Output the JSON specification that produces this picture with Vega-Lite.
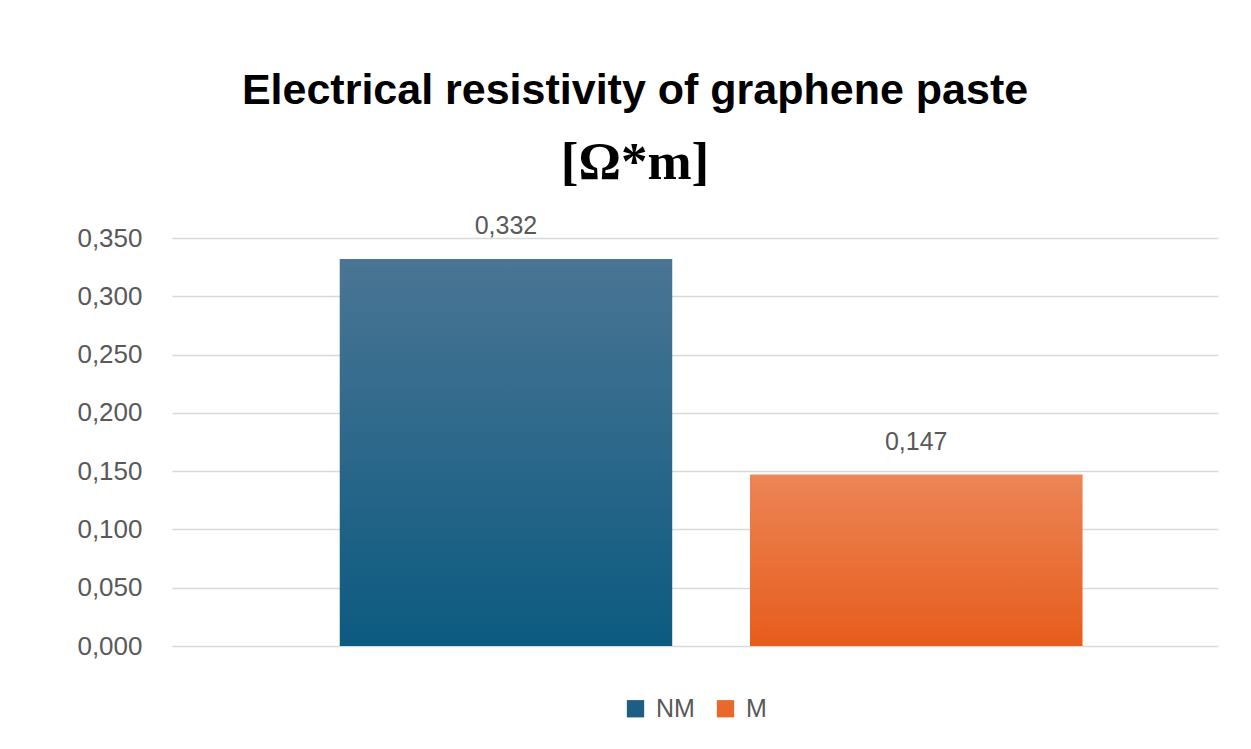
{
  "$schema": "https://vega.github.io/schema/vega-lite/v6.json",
  "autosize": "none",
  "width": 1046,
  "height": 408,
  "padding": {"left": 172, "top": 238, "right": 33, "bottom": 103},
  "background": "white",
  "config": {
    "view": {"stroke": null},
    "font": "Liberation Sans",
    "legend": {"layout": {"bottom": {"anchor": "middle"}}},
    "locale": {"number": {"decimal": ",", "thousands": ".", "grouping": [3], "currency": ["", " €"]}}
  },
  "title": {
    "text": "Electrical resistivity of graphene paste",
    "subtitle": "[Ω*m]",
    "font": "Liberation Sans",
    "fontSize": 43,
    "fontWeight": "bold",
    "color": "#000000",
    "subtitleFont": "Liberation Serif",
    "subtitleFontSize": 53,
    "subtitleFontWeight": "bold",
    "subtitleColor": "#000000",
    "subtitlePadding": 24,
    "anchor": "middle",
    "dx": -60,
    "offset": 24
  },
  "data": {"values": [
    {"series": "NM", "value": 0.332},
    {"series": "M", "value": 0.147}
  ]},
  "encoding": {
    "x": {"field": "series", "type": "nominal", "sort": ["NM", "M"], "axis": null,
          "scale": {"paddingInner": 0.19, "paddingOuter": 0.37, "align": 0.553}},
    "y": {"field": "value", "type": "quantitative",
          "scale": {"domain": [0, 0.35], "nice": false},
          "axis": {"title": null, "format": ".3f", "values": [0, 0.05, 0.1, 0.15, 0.2, 0.25, 0.3, 0.35],
                   "domain": false, "ticks": false, "labelPadding": 30,
                   "labelFontSize": 26, "labelColor": "#595959", "labelFont": "Liberation Sans",
                   "gridColor": "#d9d9d9", "gridWidth": 1.5}}
  },
  "layer": [
    {
      "mark": {"type": "bar"},
      "encoding": {
        "color": {"field": "series", "type": "nominal", "sort": ["NM", "M"],
                  "scale": {"domain": ["NM", "M"], "range": ["#1d5f84", "#e9692c"]},
                  "legend": {"title": null, "orient": "bottom", "direction": "horizontal",
                             "symbolType": "square", "symbolSize": 300, "symbolStrokeWidth": 0,
                             "labelFontSize": 25, "labelColor": "#595959", "labelFont": "Liberation Sans",
                             "columnPadding": 18, "labelOffset": 8, "offset": 50}}
      }
    },
    {
      "transform": [{"filter": "datum.series === 'NM'"}],
      "mark": {"type": "bar", "fill": {"gradient": "linear", "x1": 0, "y1": 0, "x2": 0, "y2": 1,
               "stops": [{"offset": 0, "color": "#4a7594"}, {"offset": 1, "color": "#0c5a80"}]}}
    },
    {
      "transform": [{"filter": "datum.series === 'M'"}],
      "mark": {"type": "bar", "fill": {"gradient": "linear", "x1": 0, "y1": 0, "x2": 0, "y2": 1,
               "stops": [{"offset": 0, "color": "#ec8556"}, {"offset": 1, "color": "#e65c1c"}]}}
    },
    {
      "mark": {"type": "text", "baseline": "bottom", "dy": -20, "fontSize": 25, "color": "#595959", "font": "Liberation Sans"},
      "encoding": {"text": {"field": "value", "type": "quantitative", "format": ".3f"}}
    }
  ]
}
